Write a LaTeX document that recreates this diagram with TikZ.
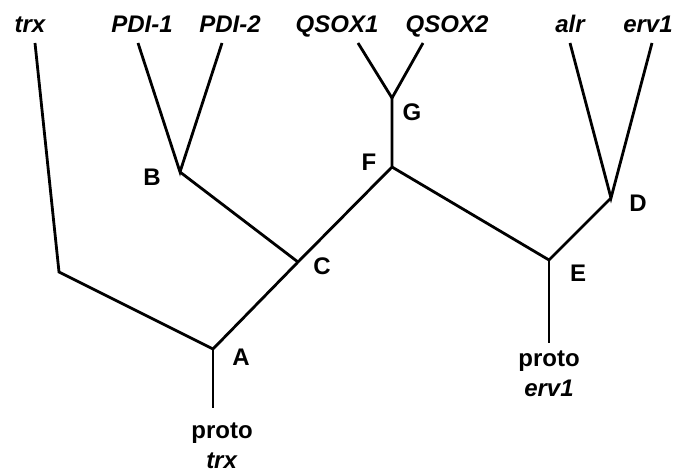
\documentclass[tikz,border=0pt]{standalone}
\usepackage{fontspec}
\setmainfont{Liberation Sans}

\begin{document}
\begin{tikzpicture}[x=1pt,y=-1pt,
    branch/.style={color=black,line width=2.8pt},
    leaf/.style={font=\fontsize{24}{28}\selectfont\bfseries\itshape,inner sep=0pt,anchor=base},
    lab/.style={font=\fontsize{24}{28}\selectfont\bfseries,inner sep=0pt,anchor=base},
    root/.style={font=\fontsize{24}{30}\selectfont\bfseries,align=center,inner sep=0pt,anchor=base}]
            \useasboundingbox (0,0) rectangle (678,473);
            %\node at (339,10) {};
            \node[leaf] (ntrx) at (30,33) {trx};
            \node[leaf] (npdia) at (142,33) {PDI-1};
            \node[leaf] (npdib) at (230,33) {PDI-2};
            \node[leaf] (nqsa) at (337,33) {QSOX1};
            \node[leaf] (nqsb) at (447,33) {QSOX2};
            \node[leaf] (nalr) at (570,33) {alr};
            \node[leaf] (nerv) at (648,33) {erv1};
            \coordinate (ttrx) at (35,43);
            \coordinate (tpdia) at (138,43);
            \coordinate (tpdib) at (222,43);
            \coordinate (tqsa) at (358,43);
            \coordinate (tqsb) at (423,43);
            \coordinate (talr) at (570,43);
            \coordinate (terv) at (652,43);
            \coordinate (A) at (213,349);
            \coordinate (B) at (180,172);
            \coordinate (C) at (298,262);
            \coordinate (D) at (611,198);
            \coordinate (E) at (549,260);
            \coordinate (F) at (392,167);
            \coordinate (G) at (392,98);
            \coordinate (K) at (59,272);
            \coordinate (rA) at (213,408);
            \coordinate (rE) at (549,343);
            \draw[branch](ttrx) to (K) to (A);
            \draw[branch](tpdia) to (B) to (tpdib);
            \draw[branch](B) to (C);
            \draw[branch](A) to (C) to (F) to (G);
            \draw[branch](tqsa) to (G) to (tqsb);
            \draw[branch](F) to (E) to (D);
            \draw[branch](talr) to (D) to (terv);
            \draw[branch](A) to (rA);
            \draw[branch](E) to (rE);
            \node[lab] (lA) at (241,366) {A};
            \node[lab] (lB) at (152,186) {B};
            \node[lab] (lC) at (322,275) {C};
            \node[lab] (lD) at (638,212) {D};
            \node[lab] (lE) at (578,282) {E};
            \node[lab] (lF) at (369,171) {F};
            \node[lab] (lG) at (412,121) {G};
            \node[root] (ptrx) at (222,468) {proto\\\textit{trx}};
            \node[root] (perv) at (549,396) {proto\\\textit{erv1}};
        \end{tikzpicture}
\end{document}
